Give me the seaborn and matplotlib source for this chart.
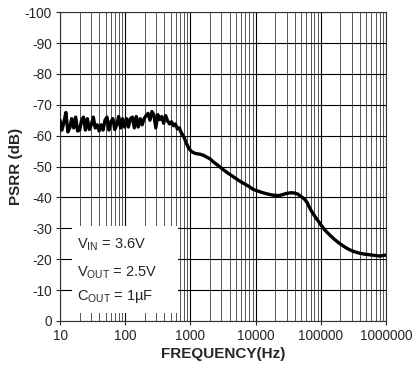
import numpy as np
import pandas as pd
import matplotlib
matplotlib.use('Agg')
import matplotlib.pyplot as plt
import seaborn as sns
from matplotlib.ticker import FixedLocator, LogLocator, NullFormatter
from matplotlib.patches import Rectangle

# ---------------------------------------------------------------------------------------
## 0. Data

freq_flat = [10, 10.7, 11.5, 12.3, 13.2, 14.1, 15.1, 16.2, 17.4, 18.6,
             20, 21.4, 22.9, 24.5, 26.3, 28.2, 30.2, 32.4, 34.7, 37.2,
             39.8, 42.7, 45.7, 49, 52.5, 56.2, 60.3, 64.6, 69.2, 74.1,
             79.4, 85.1, 91.2, 97.7, 105, 112, 120, 129, 138, 148,
             158, 170, 182, 195, 209, 224, 240, 257, 275, 295,
             316, 339, 363, 389, 417, 447, 479, 513, 550, 589,
             631, 676, 724]
psrr_flat = [-65, -61.8, -64.5, -67.5, -61.2, -62.5, -65.5, -62.5, -66, -61.5,
             -61.8, -65, -66, -61.8, -65.5, -62, -63.5, -66, -62.5, -63.5,
             -61.5, -63.5, -61.8, -65, -66, -61.8, -64.5, -65.5, -62, -63.5,
             -66.2, -62.5, -65.5, -62.8, -65.5, -62.8, -65.5, -66, -62.5, -66.2,
             -62.8, -65.5, -63.5, -65.5, -66.5, -67.2, -65, -67.8, -66.8, -62.5,
             -66.8, -65.2, -66.2, -64, -66.5, -64.8, -63.8, -64.5, -63.2, -63.8,
             -62.2, -62.5, -61]

freq_roll = [800, 870, 950, 1050, 1200, 1400, 1600, 1800, 2000, 2250,
             2600, 3200, 3800, 4500, 5500, 6500, 8000, 9200, 11000, 13000,
             16000, 19000, 23000, 27000, 30000, 35000, 40000, 45000, 50000, 56000,
             62000, 68000, 75000, 85000, 97000, 115000, 138000, 165000, 197000, 240000,
             280000, 330000, 400000, 480000, 570000, 680000, 810000, 900000, 1000000]
psrr_roll = [-59.5, -57.5, -55.8, -54.8, -54.2, -54, -53.6, -53, -52.5, -51.5,
             -50.5, -49, -47.8, -46.8, -45.5, -44.6, -43.5, -42.6, -42, -41.5,
             -41, -40.7, -40.6, -41, -41.3, -41.5, -41.4, -41, -40.3, -39.5,
             -38.3, -36.5, -35, -33.3, -31.6, -29.5, -27.8, -26.3, -25, -23.8,
             -23, -22.4, -21.9, -21.6, -21.4, -21.2, -21.0, -21.2, -21.3]

x_ticks = [10, 100, 1000, 10000, 100000, 1000000]
x_tick_labels = ['10', '100', '1000', '10000', '100000', '1000000']
y_ticks = [-100, -90, -80, -70, -60, -50, -40, -30, -20, -10, 0]

conditions = [r'V$_\mathrm{IN}$ = 3.6V', r'V$_\mathrm{OUT}$ = 2.5V', r'C$_\mathrm{OUT}$ = 1µF']

df = pd.DataFrame({'freq': freq_flat + freq_roll, 'psrr': psrr_flat + psrr_roll})

# ---------------------------------------------------------------------------------------
## 1. Plot

sns.set_style('ticks')
plt.rcParams['font.family'] = ['Liberation Sans', 'DejaVu Sans']
plt.rcParams['mathtext.fontset'] = 'custom'
plt.rcParams['mathtext.rm'] = 'Liberation Sans'
plt.rcParams['mathtext.it'] = 'Liberation Sans:italic'
plt.rcParams['mathtext.bf'] = 'Liberation Sans:bold'

fig = plt.figure(figsize=(4.14, 3.68), dpi=100)
ax = fig.add_axes([0.145, 0.128, 0.787, 0.839])

sns.lineplot(data=df, x='freq', y='psrr', ax=ax, color='black', linewidth=2.4,
             sort=False, zorder=5)

ax.set_xscale('log')
ax.set_xlim(10, 1000000)
ax.set_ylim(0, -100)

ax.xaxis.set_major_locator(FixedLocator(x_ticks))
ax.set_xticklabels(x_tick_labels)
ax.xaxis.set_minor_locator(LogLocator(base=10, subs=np.arange(2, 10)))
ax.xaxis.set_minor_formatter(NullFormatter())
ax.set_yticks(y_ticks)
ax.set_yticklabels([str(v) for v in y_ticks])

ax.grid(which='major', axis='both', color='black', linewidth=0.8)
ax.grid(which='minor', axis='x', color='#3a3a3a', linewidth=0.6)
ax.set_axisbelow(True)

ax.tick_params(axis='both', which='major', labelsize=9.8, length=3, width=0.8,
               direction='out', pad=3)
ax.tick_params(axis='x', which='minor', length=0)
for s in ax.spines.values():
    s.set_linewidth(0.8)
    s.set_color('#333333')

ax.set_xlabel('FREQUENCY(Hz)', fontsize=11, fontweight='bold', labelpad=3)
ax.set_ylabel('PSRR (dB)', fontsize=11, fontweight='bold', labelpad=1)

# white box with operating conditions
ax.add_patch(Rectangle((0.037, 0.026), 0.325, 0.281, transform=ax.transAxes,
                       facecolor='white', edgecolor='none', zorder=3))
for txt, yy in zip(conditions, [0.246, 0.155, 0.078]):
    ax.text(0.052, yy, txt, transform=ax.transAxes, fontsize=10.5,
            va='center', ha='left', zorder=4)

plt.savefig('out.png', dpi=100)
